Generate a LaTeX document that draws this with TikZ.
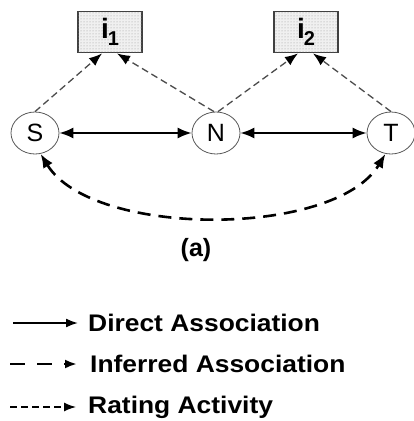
\documentclass[tikz,border=0pt]{standalone}
\usepackage{fontspec}
\setmainfont{Liberation Sans}
\usetikzlibrary{positioning, arrows.meta, shapes.geometric, patterns}

\newcommand{\itemlabel}[1]{i\kern-1pt\raisebox{-7pt}{\fontsize{20}{20}\selectfont #1}}

\tikzset{
	user/.style={draw=gray!70!black, line width=0.8pt, ellipse, minimum width=48pt,
		minimum height=42pt, inner sep=0pt, font=\fontsize{25}{25}\selectfont},
	item/.style={draw=gray!50!black, line width=1.8pt, fill=gray!12, minimum width=64pt,
		minimum height=41pt, inner sep=0pt, font=\bfseries\fontsize{28}{28}\selectfont,
		postaction={pattern=dots, pattern color=gray!80}},
	direct/.style={line width=1.8pt, {Latex[length=14pt,width=11pt]}-{Latex[length=14pt,width=11pt]}},
	inferred/.style={line width=2.6pt, dash pattern=on 13pt off 8pt, {Latex[length=14pt,width=11pt]}-{Latex[length=14pt,width=11pt]}},
	rating/.style={line width=1.3pt, gray!60!black, dash pattern=on 7pt off 4pt, -{Latex[length=13pt,width=10pt,color=black]}},
	legend/.style={anchor=west, inner sep=0pt, xscale=1.1, font=\bfseries\fontsize{24}{24}\selectfont}
}

\begin{document}
\begin{tikzpicture}[x=1pt, y=-1pt]
	\useasboundingbox (0,0) rectangle (414,421);
	
	%Items
	\node[item] (i1) at (110,32) {\itemlabel{1}};
	\node[item] (i2) at (306,32) {\itemlabel{2}};
	
	%Users
	\node[user] (S) at (35,133) {S};
	\node[user] (N) at (216,133) {N};
	\node[user] (T) at (391,133) {T};
	
	%Associations
	\draw[direct] (S) -- (N);
	\draw[direct] (N) -- (T);
	\draw[inferred] (S.-75) .. controls (92,238) and (335,238) .. (T.-105);
	
	%Ratings
	\draw[rating] (S.north) -- ([xshift=-8pt]i1.south);
	\draw[rating] ([xshift=-2pt]N.north) -- ([xshift=7pt]i1.south);
	\draw[rating] ([xshift=2pt]N.north) -- ([xshift=-8pt]i2.south);
	\draw[rating] (T.north) -- ([xshift=7pt]i2.south);
	
	\node[font=\bfseries\fontsize{25}{25}\selectfont] (caption) at (196,250) {(a)};
	
	%Legend
	\node[legend] (ldirect) at (88,323) {Direct Association};
	\node[legend] (linferred) at (90,364) {Inferred Association};
	\node[legend] (lrating) at (88,407) {Rating Activity};
	\coordinate (sdirect) at (13,323);
	\coordinate (sinferred) at (10,364);
	\coordinate (srating) at (10,407);
	\draw[line width=1.8pt, -{Latex[length=12pt,width=9pt]}] (sdirect) -- ([xshift=-10pt]ldirect.west);
	\draw[line width=2.6pt, dash pattern=on 15pt off 12pt, -{Latex[length=12pt,width=9pt]}] (sinferred) -- ([xshift=-13pt]linferred.west);
	\draw[line width=1.3pt, dash pattern=on 7pt off 4pt, -{Latex[length=12pt,width=9pt]}] (srating) -- ([xshift=-12pt]lrating.west);
\end{tikzpicture}
\end{document}
